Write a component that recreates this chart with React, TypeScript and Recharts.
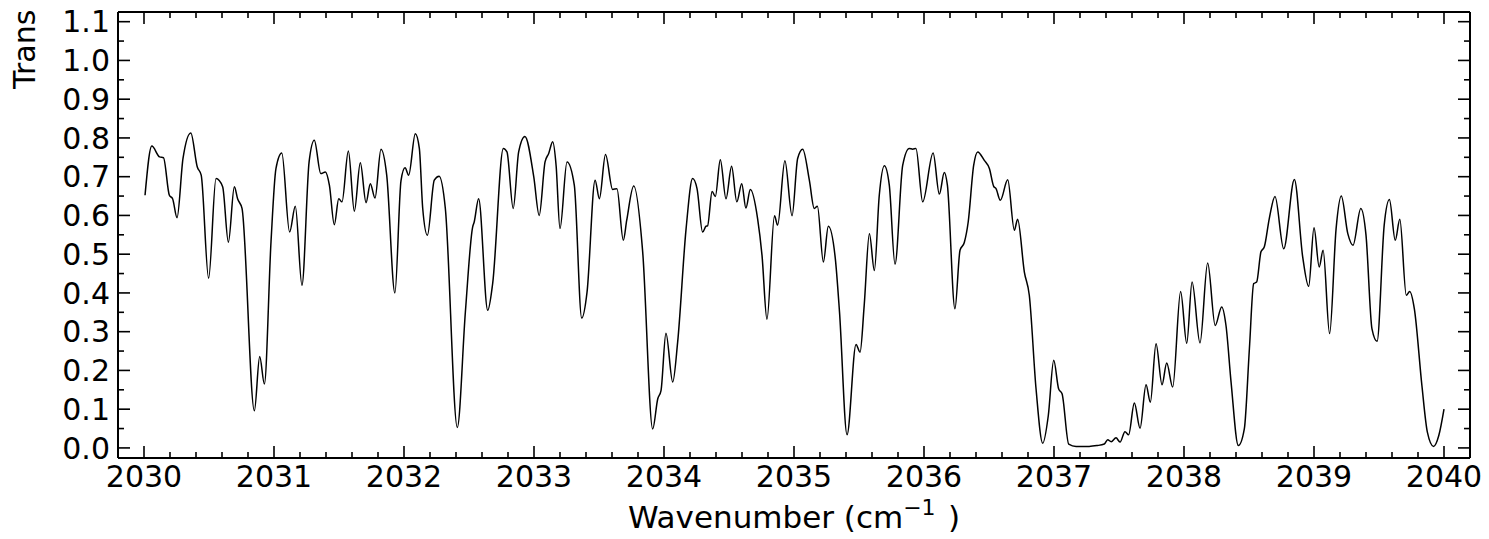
import { LineChart, Line, XAxis, YAxis } from "recharts";

// spectrum
const WAVENUMBER = [
  2030.008, 2030.06, 2030.12, 2030.15, 2030.195, 2030.22, 2030.254, 2030.3, 2030.36, 2030.41,
  2030.44, 2030.497, 2030.554, 2030.605, 2030.649, 2030.695, 2030.72, 2030.754, 2030.849, 2030.89,
  2030.926, 2030.977, 2031.015, 2031.06, 2031.12, 2031.164, 2031.215, 2031.27, 2031.31, 2031.36,
  2031.395, 2031.426, 2031.464, 2031.498, 2031.523, 2031.572, 2031.618, 2031.664, 2031.708, 2031.741,
  2031.777, 2031.823, 2031.867, 2031.93, 2031.977, 2032.008, 2032.036, 2032.087, 2032.118, 2032.144,
  2032.18, 2032.233, 2032.27, 2032.318, 2032.41, 2032.472, 2032.528, 2032.54, 2032.574, 2032.644,
  2032.682, 2032.764, 2032.792, 2032.84, 2032.882, 2032.93, 2032.998, 2033.04, 2033.085, 2033.113,
  2033.144, 2033.17, 2033.2, 2033.254, 2033.31, 2033.367, 2033.408, 2033.47, 2033.503, 2033.55,
  2033.605, 2033.638, 2033.687, 2033.713, 2033.767, 2033.836, 2033.913, 2033.952, 2033.977, 2034.015,
  2034.067, 2034.105, 2034.17, 2034.22, 2034.254, 2034.297, 2034.323, 2034.335, 2034.37, 2034.395,
  2034.433, 2034.477, 2034.52, 2034.56, 2034.598, 2034.63, 2034.664, 2034.72, 2034.754, 2034.792,
  2034.85, 2034.874, 2034.93, 2034.985, 2035.028, 2035.067, 2035.118, 2035.156, 2035.18, 2035.226,
  2035.264, 2035.318, 2035.35, 2035.408, 2035.477, 2035.508, 2035.54, 2035.58, 2035.618, 2035.656,
  2035.695, 2035.733, 2035.777, 2035.836, 2035.887, 2035.913, 2035.938, 2035.99, 2036.07, 2036.118,
  2036.156, 2036.18, 2036.238, 2036.277, 2036.31, 2036.34, 2036.382, 2036.413, 2036.464, 2036.503,
  2036.536, 2036.554, 2036.587, 2036.644, 2036.695, 2036.72, 2036.772, 2036.81, 2036.862, 2036.913,
  2036.956, 2036.998, 2037.036, 2037.062, 2037.113, 2037.17, 2037.27, 2037.33, 2037.387, 2037.413,
  2037.44, 2037.477, 2037.508, 2037.546, 2037.574, 2037.618, 2037.662, 2037.708, 2037.741, 2037.785,
  2037.831, 2037.867, 2037.913, 2037.974, 2038.021, 2038.062, 2038.123, 2038.182, 2038.24, 2038.29,
  2038.323, 2038.362, 2038.418, 2038.464, 2038.503, 2038.536, 2038.559, 2038.592, 2038.618, 2038.656,
  2038.7, 2038.767, 2038.849, 2038.913, 2038.959, 2039.0, 2039.04, 2039.07, 2039.12, 2039.17,
  2039.21, 2039.26, 2039.3, 2039.36, 2039.4, 2039.446, 2039.485, 2039.54, 2039.58, 2039.625,
  2039.66, 2039.71, 2039.736, 2039.772, 2039.83, 2039.872, 2039.92, 2039.96, 2040.0,
];

const TRANSMITTANCE = [
  0.652, 0.779, 0.751, 0.749, 0.652, 0.643, 0.594, 0.747, 0.813, 0.725,
  0.704, 0.438, 0.695, 0.674, 0.531, 0.674, 0.643, 0.618, 0.096, 0.236,
  0.165, 0.532, 0.721, 0.761, 0.557, 0.624, 0.42, 0.738, 0.794, 0.708,
  0.712, 0.678, 0.576, 0.643, 0.635, 0.766, 0.611, 0.736, 0.633, 0.682,
  0.645, 0.771, 0.704, 0.4, 0.69, 0.723, 0.704, 0.811, 0.773, 0.618,
  0.549, 0.691, 0.701, 0.618, 0.053, 0.35, 0.57, 0.583, 0.643, 0.355,
  0.424, 0.773, 0.764, 0.618, 0.764, 0.804, 0.7, 0.6, 0.738, 0.76,
  0.79, 0.729, 0.566, 0.738, 0.678, 0.335, 0.402, 0.691, 0.643, 0.757,
  0.667, 0.669, 0.536, 0.587, 0.676, 0.506, 0.049, 0.127, 0.148, 0.296,
  0.17, 0.273, 0.566, 0.695, 0.669, 0.557, 0.572, 0.573, 0.662, 0.649,
  0.744, 0.643, 0.727, 0.635, 0.682, 0.619, 0.667, 0.592, 0.497, 0.332,
  0.599, 0.575, 0.741, 0.599, 0.747, 0.771, 0.691, 0.618, 0.624, 0.48,
  0.572, 0.488, 0.351, 0.034, 0.267, 0.247, 0.368, 0.553, 0.458, 0.652,
  0.728, 0.678, 0.474, 0.729, 0.773, 0.771, 0.773, 0.635, 0.761, 0.655,
  0.711, 0.678, 0.359, 0.51, 0.53, 0.583, 0.729, 0.764, 0.742, 0.721,
  0.675, 0.669, 0.639, 0.692, 0.562, 0.59, 0.454, 0.394, 0.152, 0.012,
  0.083, 0.226, 0.152, 0.14, 0.01, 0.004, 0.004, 0.006, 0.01, 0.021,
  0.016, 0.026, 0.015, 0.042, 0.034, 0.116, 0.051, 0.163, 0.118, 0.269,
  0.163, 0.219, 0.157, 0.404, 0.27, 0.428, 0.271, 0.477, 0.316, 0.364,
  0.316, 0.17, 0.006, 0.049, 0.256, 0.424, 0.428, 0.506, 0.519, 0.592,
  0.649, 0.514, 0.693, 0.493, 0.417, 0.568, 0.467, 0.51, 0.295, 0.566,
  0.65, 0.553, 0.523, 0.618, 0.549, 0.307, 0.275, 0.575, 0.641, 0.536,
  0.59, 0.394, 0.404, 0.359, 0.161, 0.041, 0.004, 0.032, 0.1,
];

const X_MAJOR_TICKS = [2030, 2031, 2032, 2033, 2034, 2035, 2036, 2037, 2038, 2039, 2040];
const Y_MAJOR_TICKS = [0, 0.1, 0.2, 0.3, 0.4, 0.5, 0.6, 0.7, 0.8, 0.9, 1.0, 1.1];

const X_DOMAIN = [2029.8, 2040.2];
const Y_DOMAIN = [-0.026, 1.125];

const FONT = "'DejaVu Sans', sans-serif";
const FONT_SIZE = 30;

const chartData = WAVENUMBER.map((x, i) => ({ x, t: TRANSMITTANCE[i] }));

// minor ticks: every 0.2 on x, every 0.05 on y
const X_MINOR_TICKS = X_MAJOR_TICKS.slice(0, -1).flatMap((v) =>
  [0.2, 0.4, 0.6, 0.8].map((s) => +(v + s).toFixed(1))
);
const Y_MINOR_TICKS = Y_MAJOR_TICKS.map((v) => +(v + 0.05).toFixed(2)).filter(
  (v) => v < Y_DOMAIN[1]
);
const X_TICKS = [...X_MAJOR_TICKS, ...X_MINOR_TICKS].sort((a, b) => a - b);
const Y_TICKS = [...Y_MAJOR_TICKS, ...Y_MINOR_TICKS].sort((a, b) => a - b);

const isMajorX = (v: number) => X_MAJOR_TICKS.some((m) => Math.abs(m - v) < 1e-6);
const isMajorY = (v: number) => Y_MAJOR_TICKS.some((m) => Math.abs(m - v) < 1e-6);

const MAJOR_LEN = 12;
const MINOR_LEN = 6;

function BottomTick({ x, y, payload }: any) {
  const major = isMajorX(payload.value);
  return (
    <g>
      <line x1={x} x2={x} y1={y} y2={y - (major ? MAJOR_LEN : MINOR_LEN)} stroke="#000" strokeWidth={1.6} />
      {major && (
        <text x={x} y={y + 29} textAnchor="middle" fontSize={FONT_SIZE} fontFamily={FONT} fill="#000">
          {payload.value}
        </text>
      )}
    </g>
  );
}

function TopTick({ x, y, payload }: any) {
  const major = isMajorX(payload.value);
  return (
    <line x1={x} x2={x} y1={y} y2={y + (major ? MAJOR_LEN : MINOR_LEN)} stroke="#000" strokeWidth={1.6} />
  );
}

function LeftTick({ x, y, payload }: any) {
  const major = isMajorY(payload.value);
  return (
    <g>
      <line x1={x} x2={x + (major ? MAJOR_LEN : MINOR_LEN)} y1={y} y2={y} stroke="#000" strokeWidth={1.6} />
      {major && (
        <text x={x - 8} y={y} dy="0.36em" textAnchor="end" fontSize={FONT_SIZE} fontFamily={FONT} fill="#000">
          {payload.value.toFixed(1)}
        </text>
      )}
    </g>
  );
}

function RightTick({ x, y, payload }: any) {
  const major = isMajorY(payload.value);
  return (
    <line x1={x} x2={x - (major ? MAJOR_LEN : MINOR_LEN)} y1={y} y2={y} stroke="#000" strokeWidth={1.6} />
  );
}

function XTitle({ viewBox }: any) {
  const cx = viewBox.x + viewBox.width / 2;
  return (
    <text x={cx} y={viewBox.y + 70} textAnchor="middle" fontSize={31} fontFamily={FONT} fill="#000">
      Wavenumber (cm
      <tspan fontSize={22} dy={-13}>{"\u22121"}</tspan>
      <tspan dy={13}>{"\u2009\u2009)"}</tspan>
    </text>
  );
}

function YTitle({ viewBox }: any) {
  const tx = viewBox.x + 35;
  const ty = viewBox.y + 77;
  return (
    <text
      x={tx}
      y={ty}
      transform={`rotate(-90, ${tx}, ${ty})`}
      textAnchor="start"
      fontSize={FONT_SIZE}
      fontFamily={FONT}
      fill="#000"
    >
      Trans
    </text>
  );
}

const axisLine = { stroke: "#000", strokeWidth: 2 };

export default function App() {
  return (
    <div style={{ position: "absolute", left: 0, top: 0, background: "#fff" }}>
      <LineChart
        width={1489}
        height={539}
        data={chartData}
        margin={{ top: 11, right: 18, bottom: 0, left: 0 }}
        style={{ fontFamily: FONT }}
      >
        <XAxis
          xAxisId="bottom"
          dataKey="x"
          type="number"
          domain={X_DOMAIN}
          allowDataOverflow
          ticks={X_TICKS}
          interval={0}
          tickSize={0}
          tickMargin={0}
          tickLine={false}
          tick={(p: any) => <BottomTick {...p} />}
          axisLine={axisLine}
          height={81}
          label={(p: any) => <XTitle {...p} />}
        />
        <XAxis
          xAxisId="top"
          orientation="top"
          dataKey="x"
          type="number"
          domain={X_DOMAIN}
          allowDataOverflow
          ticks={X_TICKS}
          interval={0}
          tickSize={0}
          tickMargin={0}
          tickLine={false}
          tick={(p: any) => <TopTick {...p} />}
          axisLine={axisLine}
          height={1}
        />
        <YAxis
          yAxisId="left"
          type="number"
          domain={Y_DOMAIN}
          allowDataOverflow
          ticks={Y_TICKS}
          interval={0}
          tickSize={0}
          tickMargin={0}
          tickLine={false}
          tick={(p: any) => <LeftTick {...p} />}
          axisLine={axisLine}
          width={118}
          label={(p: any) => <YTitle {...p} />}
        />
        <YAxis
          yAxisId="right"
          orientation="right"
          type="number"
          domain={Y_DOMAIN}
          allowDataOverflow
          ticks={Y_TICKS}
          interval={0}
          tickSize={0}
          tickMargin={0}
          tickLine={false}
          tick={(p: any) => <RightTick {...p} />}
          axisLine={axisLine}
          width={1}
        />
        <Line
          xAxisId="bottom"
          yAxisId="left"
          dataKey="t"
          type="monotone"
          stroke="#000"
          strokeWidth={1.5}
          dot={false}
          isAnimationActive={false}
        />
        {/* invisible twin so the mirrored top/right axes get a scale */}
        <Line
          xAxisId="top"
          yAxisId="right"
          dataKey="t"
          type="monotone"
          stroke="none"
          dot={false}
          activeDot={false}
          legendType="none"
          isAnimationActive={false}
        />
      </LineChart>
    </div>
  );
}
